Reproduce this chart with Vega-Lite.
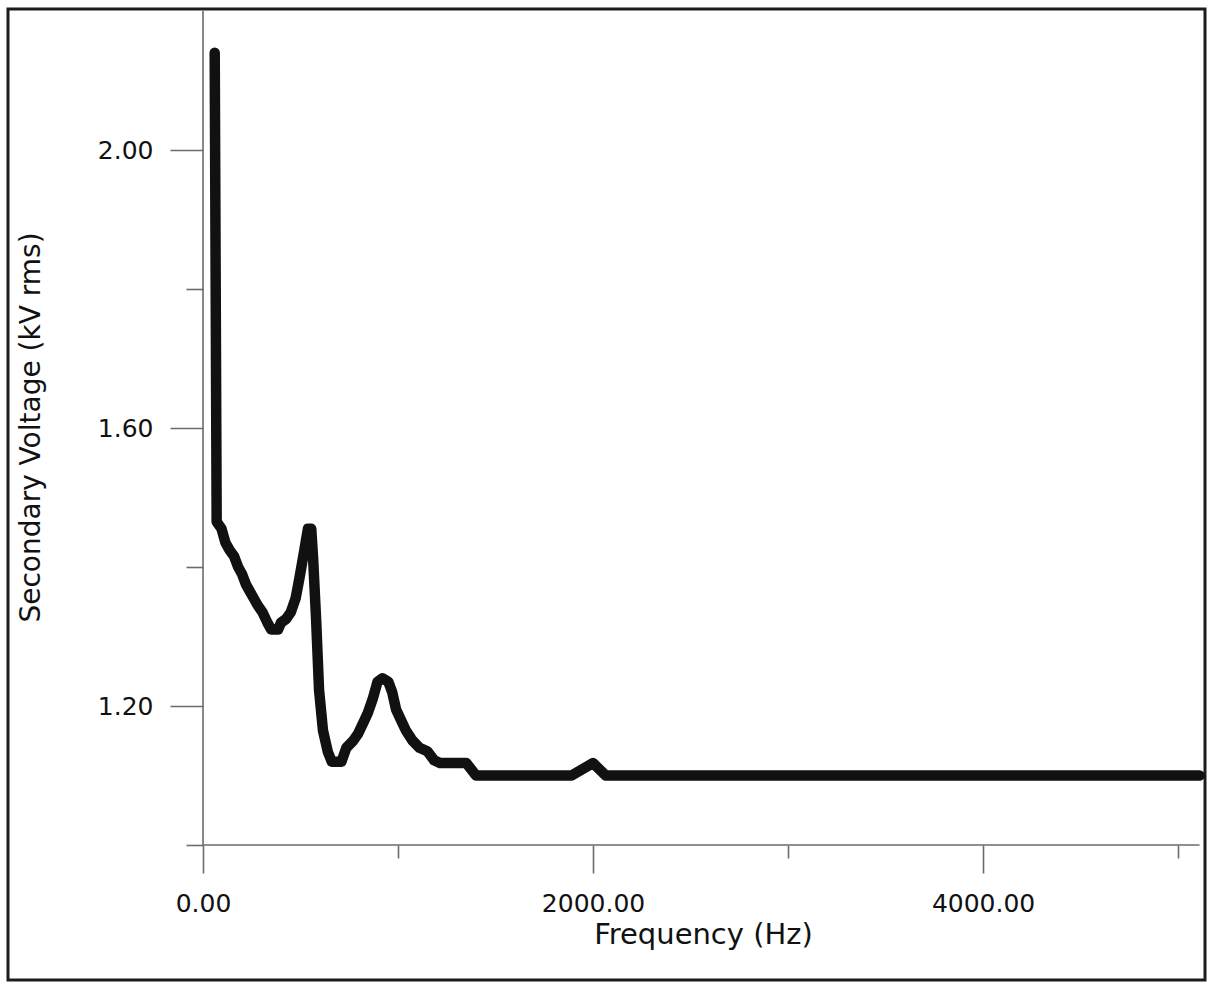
{
  "$schema": "https://vega.github.io/schema/vega-lite/v6.json",
  "width": 1197,
  "height": 971,
  "autosize": {"type": "none"},
  "padding": {"left": 8, "top": 9, "right": 3, "bottom": 3},
  "background": "white",
  "config": {
    "view": {"stroke": "#1c1c1c", "strokeWidth": 3},
    "font": "DejaVu Sans"
  },
  "resolve": {"axis": {"x": "independent", "y": "independent"}},
  "layer": [
    {
      "data": {
        "values": [
          {"x0": 0, "x1": 0, "y0": 1.0, "y1": 2.2},
          {"x0": 0, "x1": 5110, "y0": 1.0, "y1": 1.0}
        ]
      },
      "mark": {"type": "rule", "color": "#6b6b6b", "strokeWidth": 1.6},
      "encoding": {
        "x": {
          "field": "x0",
          "type": "quantitative",
          "scale": {"domain": [-1000, 5138], "nice": false, "zero": false},
          "axis": {
            "orient": "bottom",
            "offset": -135,
            "values": [0, 2000, 4000],
            "format": ".2f",
            "domain": false,
            "grid": false,
            "tickSize": 28,
            "tickColor": "#6b6b6b",
            "tickWidth": 1.6,
            "labelFont": "DejaVu Sans",
            "labelFontSize": 25,
            "labelColor": "#111111",
            "labelPadding": 18,
            "labelFlush": false,
            "labelOverlap": false,
            "title": "Frequency (Hz)",
            "titleFont": "DejaVu Sans",
            "titleFontSize": 29,
            "titleFontWeight": "normal",
            "titleColor": "#111111",
            "titleX": 695,
            "titleY": 98,
            "titleAlign": "center",
            "titleBaseline": "alphabetic"
          }
        },
        "x2": {"field": "x1"},
        "y": {
          "field": "y0",
          "type": "quantitative",
          "scale": {"domain": [0.8058, 2.2029], "nice": false, "zero": false},
          "axis": {
            "orient": "left",
            "offset": -195,
            "values": [1.2, 1.6, 2.0],
            "format": ".2f",
            "domain": false,
            "grid": false,
            "tickSize": 33,
            "tickColor": "#6b6b6b",
            "tickWidth": 1.6,
            "labelFont": "DejaVu Sans",
            "labelFontSize": 25,
            "labelColor": "#111111",
            "labelPadding": 17,
            "labelOverlap": false,
            "title": "Secondary Voltage (kV rms)",
            "titleFont": "DejaVu Sans",
            "titleFontSize": 28,
            "titleFontWeight": "normal",
            "titleColor": "#111111",
            "titleX": -172,
            "titleY": 418,
            "titleAngle": 270,
            "titleAlign": "center",
            "titleBaseline": "middle"
          }
        },
        "y2": {"field": "y1"}
      }
    },
    {
      "data": {
        "values": [
          {"frequency_hz": 60, "secondary_kv": 2.14},
          {"frequency_hz": 70, "secondary_kv": 1.465},
          {"frequency_hz": 95, "secondary_kv": 1.455},
          {"frequency_hz": 115, "secondary_kv": 1.435},
          {"frequency_hz": 135, "secondary_kv": 1.425},
          {"frequency_hz": 160, "secondary_kv": 1.415},
          {"frequency_hz": 180, "secondary_kv": 1.4},
          {"frequency_hz": 200, "secondary_kv": 1.39},
          {"frequency_hz": 220, "secondary_kv": 1.375},
          {"frequency_hz": 240, "secondary_kv": 1.365},
          {"frequency_hz": 260, "secondary_kv": 1.355},
          {"frequency_hz": 280, "secondary_kv": 1.345},
          {"frequency_hz": 305, "secondary_kv": 1.335},
          {"frequency_hz": 330, "secondary_kv": 1.32},
          {"frequency_hz": 350, "secondary_kv": 1.31},
          {"frequency_hz": 385, "secondary_kv": 1.31},
          {"frequency_hz": 400, "secondary_kv": 1.32},
          {"frequency_hz": 425, "secondary_kv": 1.325},
          {"frequency_hz": 450, "secondary_kv": 1.335},
          {"frequency_hz": 475, "secondary_kv": 1.355},
          {"frequency_hz": 495, "secondary_kv": 1.385},
          {"frequency_hz": 520, "secondary_kv": 1.425},
          {"frequency_hz": 538, "secondary_kv": 1.455},
          {"frequency_hz": 555, "secondary_kv": 1.455},
          {"frequency_hz": 565, "secondary_kv": 1.41},
          {"frequency_hz": 580, "secondary_kv": 1.324},
          {"frequency_hz": 595, "secondary_kv": 1.223},
          {"frequency_hz": 615, "secondary_kv": 1.165},
          {"frequency_hz": 640, "secondary_kv": 1.134},
          {"frequency_hz": 660, "secondary_kv": 1.12},
          {"frequency_hz": 710, "secondary_kv": 1.12},
          {"frequency_hz": 735, "secondary_kv": 1.14},
          {"frequency_hz": 770, "secondary_kv": 1.15},
          {"frequency_hz": 795, "secondary_kv": 1.16},
          {"frequency_hz": 820, "secondary_kv": 1.175},
          {"frequency_hz": 845, "secondary_kv": 1.19},
          {"frequency_hz": 870, "secondary_kv": 1.21},
          {"frequency_hz": 895, "secondary_kv": 1.235},
          {"frequency_hz": 920, "secondary_kv": 1.24},
          {"frequency_hz": 950, "secondary_kv": 1.235},
          {"frequency_hz": 970, "secondary_kv": 1.22},
          {"frequency_hz": 990, "secondary_kv": 1.195},
          {"frequency_hz": 1015, "secondary_kv": 1.18},
          {"frequency_hz": 1040, "secondary_kv": 1.165},
          {"frequency_hz": 1075, "secondary_kv": 1.15},
          {"frequency_hz": 1110, "secondary_kv": 1.14},
          {"frequency_hz": 1150, "secondary_kv": 1.135},
          {"frequency_hz": 1185, "secondary_kv": 1.122},
          {"frequency_hz": 1215, "secondary_kv": 1.118},
          {"frequency_hz": 1350, "secondary_kv": 1.118},
          {"frequency_hz": 1400, "secondary_kv": 1.1},
          {"frequency_hz": 1890, "secondary_kv": 1.1},
          {"frequency_hz": 2000, "secondary_kv": 1.118},
          {"frequency_hz": 2065, "secondary_kv": 1.1},
          {"frequency_hz": 5110, "secondary_kv": 1.1}
        ]
      },
      "mark": {
        "type": "line",
        "color": "#111111",
        "strokeWidth": 10.5,
        "strokeCap": "round",
        "strokeJoin": "round"
      },
      "encoding": {
        "x": {
          "field": "frequency_hz",
          "type": "quantitative",
          "scale": {"domain": [-1000, 5138], "nice": false, "zero": false},
          "axis": {
            "orient": "bottom",
            "offset": -135,
            "values": [1000, 3000, 5000],
            "domain": false,
            "grid": false,
            "labels": false,
            "tickSize": 13,
            "tickColor": "#6b6b6b",
            "tickWidth": 1.6,
            "title": null
          }
        },
        "y": {
          "field": "secondary_kv",
          "type": "quantitative",
          "scale": {"domain": [0.8058, 2.2029], "nice": false, "zero": false},
          "axis": {
            "orient": "left",
            "offset": -195,
            "values": [1.0, 1.4, 1.8],
            "domain": false,
            "grid": false,
            "labels": false,
            "tickSize": 17,
            "tickColor": "#6b6b6b",
            "tickWidth": 1.6,
            "title": null
          }
        }
      }
    }
  ]
}
